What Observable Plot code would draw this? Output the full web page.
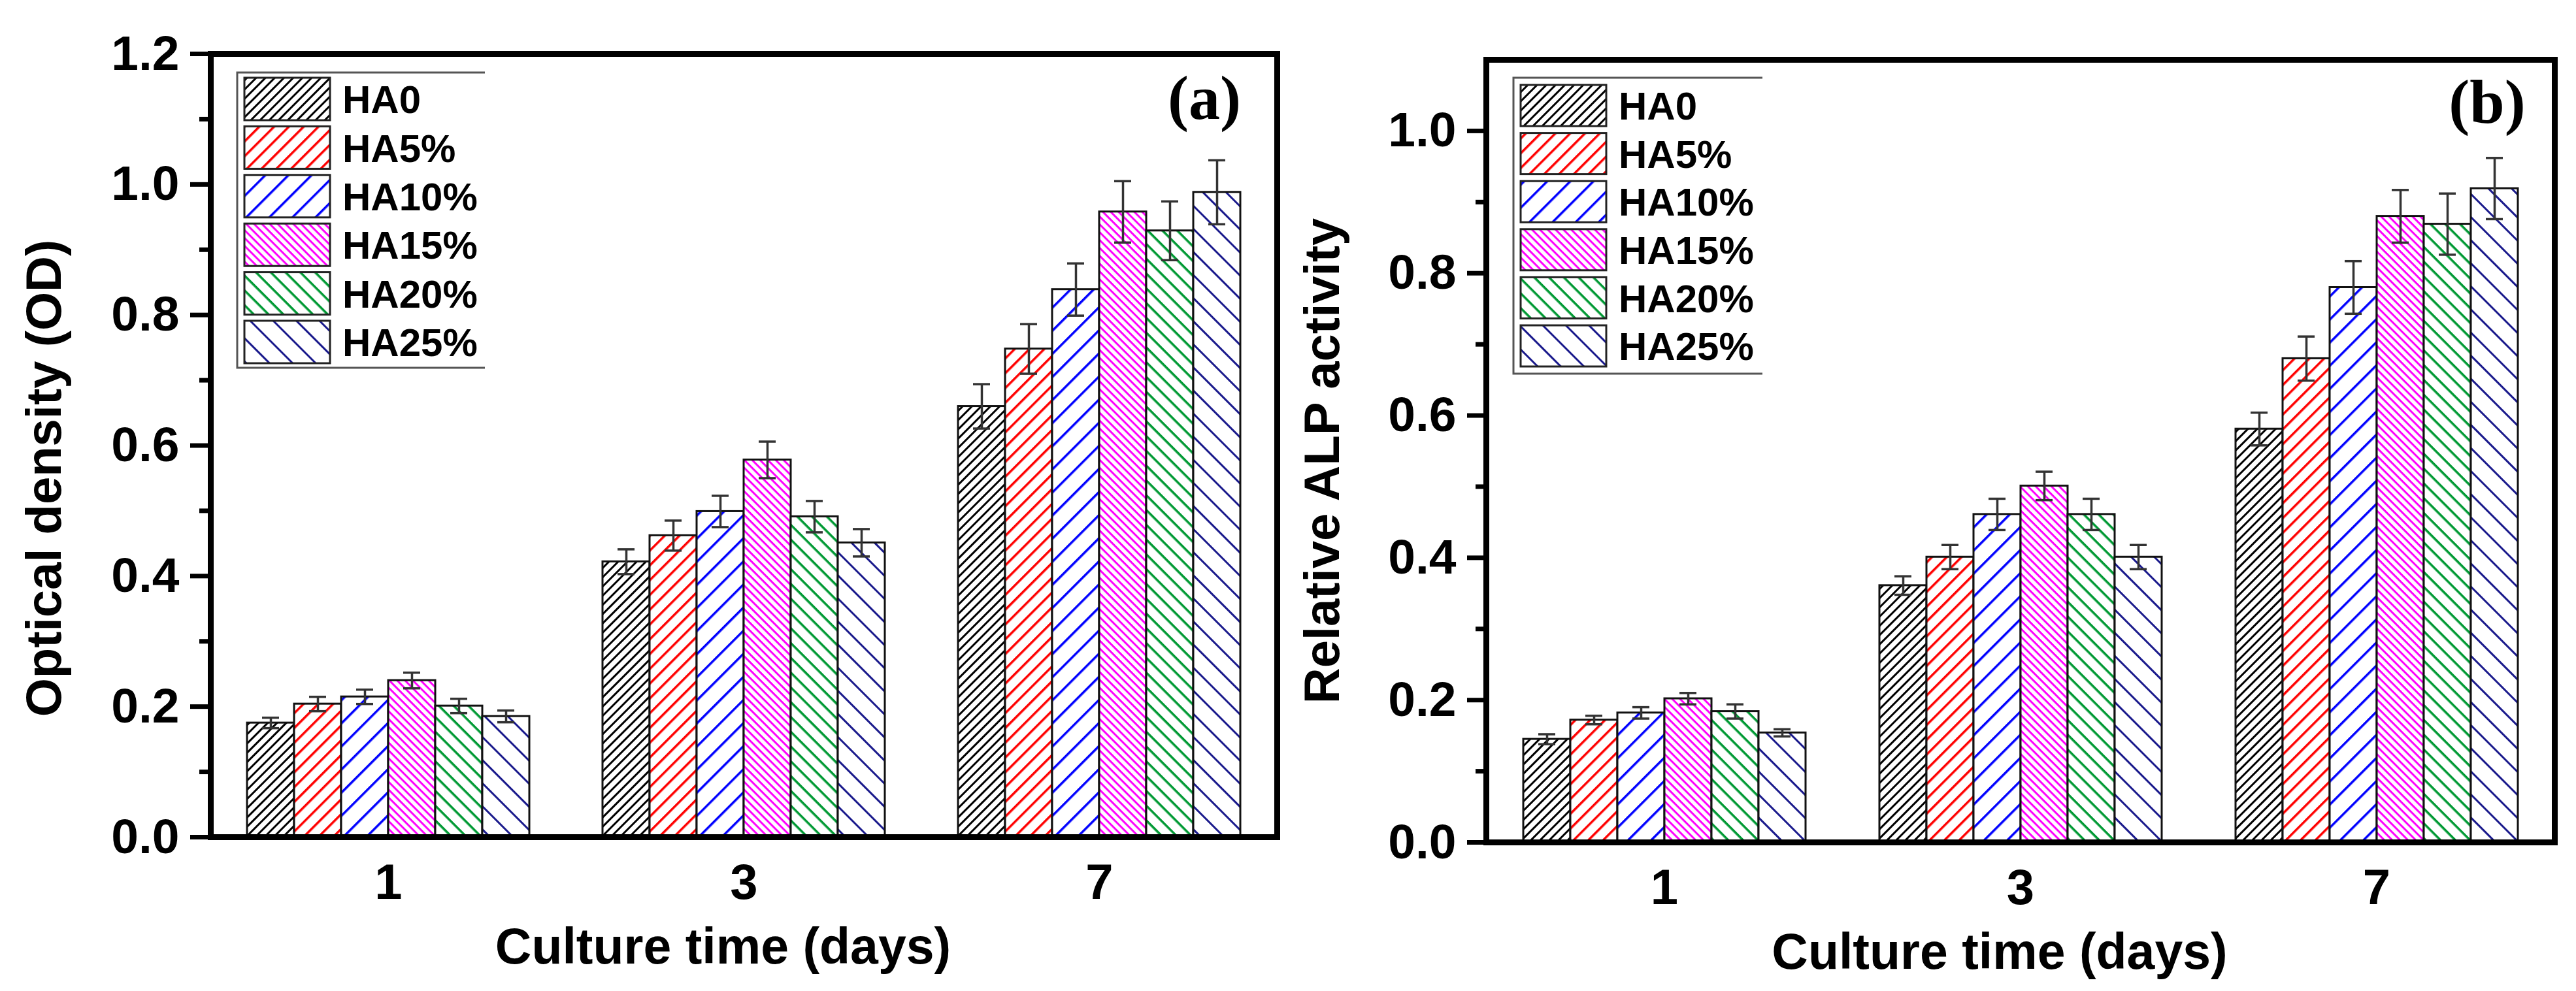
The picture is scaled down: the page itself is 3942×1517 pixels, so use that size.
<!DOCTYPE html>
<html>
<head>
<meta charset="utf-8">
<script src="https://cdn.jsdelivr.net/npm/d3@7"></script>
<script src="https://cdn.jsdelivr.net/npm/@observablehq/plot@0.6"></script>
<style>
html, body { margin: 0; padding: 0; background: #fff; }
#wrap { display: flex; width: 3942px; height: 1517px; }
.panel { width: 1971px; height: 1517px; position: relative; }
</style>
</head>
<body>
<svg id="defs" width="0" height="0" style="position:absolute;left:0;top:0"></svg>
<div id="wrap"><div class="panel" id="pa"></div><div class="panel" id="pb"></div></div>
<script>
// ---------- data ----------
const days = ["1", "3", "7"];
const series = ["HA0", "HA5%", "HA10%", "HA15%", "HA20%", "HA25%"];

// (a) Optical density (OD), mean and error per day, in series order
const odDay1 = [0.175, 0.204, 0.215, 0.240, 0.201, 0.185];
const odDay3 = [0.422, 0.462, 0.499, 0.578, 0.491, 0.451];
const odDay7 = [0.660, 0.748, 0.839, 0.958, 0.929, 0.988];
const odErr1 = [0.008, 0.011, 0.011, 0.012, 0.011, 0.009];
const odErr3 = [0.019, 0.023, 0.024, 0.028, 0.024, 0.021];
const odErr7 = [0.034, 0.038, 0.040, 0.047, 0.045, 0.049];

// (b) Relative ALP activity
const alpDay1 = [0.145, 0.172, 0.182, 0.202, 0.184, 0.154];
const alpDay3 = [0.361, 0.401, 0.461, 0.501, 0.461, 0.401];
const alpDay7 = [0.581, 0.680, 0.780, 0.880, 0.869, 0.919];
const alpErr1 = [0.007, 0.006, 0.008, 0.008, 0.010, 0.005];
const alpErr3 = [0.013, 0.017, 0.022, 0.020, 0.022, 0.017];
const alpErr7 = [0.023, 0.031, 0.037, 0.037, 0.043, 0.043];

// tick values
const odTicks = [0.0, 0.2, 0.4, 0.6, 0.8, 1.0, 1.2];
const odMinor = [0.1, 0.3, 0.5, 0.7, 0.9, 1.1];
const alpTicks = [0.0, 0.2, 0.4, 0.6, 0.8, 1.0];
const alpMinor = [0.1, 0.3, 0.5, 0.7, 0.9];

const xLabel = "Culture time (days)";

// ---------- hatch styles ----------
const hatchStyles = [
  {color: "#000000", angle: -45, gap: 10, w: 3},
  {color: "#ff0000", angle: -45, gap: 16, w: 3.5},
  {color: "#0000ff", angle: -45, gap: 25, w: 3.5},
  {color: "#ff00ff", angle: 45, gap: 8.5, w: 3},
  {color: "#009933", angle: 45, gap: 16, w: 3.5},
  {color: "#1a1a8c", angle: 45, gap: 25, w: 3}
];
const defs = d3.select("#defs").append("defs");
hatchStyles.forEach((h, i) => {
  const p = defs.append("pattern")
    .attr("id", "hatch" + i)
    .attr("patternUnits", "userSpaceOnUse")
    .attr("width", h.gap).attr("height", h.gap)
    .attr("patternTransform", `rotate(${h.angle})`);
  p.append("rect").attr("width", h.gap).attr("height", h.gap).attr("fill", "#fff");
  p.append("rect").attr("width", h.gap).attr("height", h.w).attr("fill", h.color);
});
const hatchUrls = series.map((s, i) => `url(#hatch${i})`);

function rows(means, errs) {
  return days.flatMap((d, i) => series.map((s, j) => ({day: d, series: s, value: means[i][j], err: errs[i][j]})));
}

const FONT = "'Liberation Sans', Arial, Helvetica, sans-serif";

function panel(o) {
  const lo = d => d.value - d.err, hi = d => d.value + d.err;
  const chart = Plot.plot({
    width: 1971, height: 1517,
    marginLeft: o.ml, marginRight: o.mr, marginTop: o.mt, marginBottom: o.mb,
    style: `font-family: ${FONT}; font-weight: bold; background: white; color: black;`,
    fx: {domain: days, padding: 0, label: null},
    x: {domain: series, paddingInner: 0, paddingOuter: 0.735, axis: null},
    y: {domain: [0, o.yMax]},
    color: {domain: series, range: hatchUrls},
    marks: [
      Plot.barY(o.data, {fx: "day", x: "series", y: "value", fill: "series", stroke: "#111", strokeWidth: 3}),
      Plot.ruleX(o.data, {fx: "day", x: "series", y1: lo, y2: hi, stroke: "#333", strokeWidth: 3.5}),
      Plot.tickY(o.data, {fx: "day", x: "series", y: hi, insetLeft: 23, insetRight: 23, stroke: "#333", strokeWidth: 3.5}),
      Plot.tickY(o.data, {fx: "day", x: "series", y: lo, insetLeft: 23, insetRight: 23, stroke: "#333", strokeWidth: 3.5}),
      Plot.axisY({ticks: o.minor, tickSize: o.minorSize, strokeWidth: 7, fill: "none", label: null}),
      Plot.axisY({ticks: o.ticks, tickSize: o.tickSize, strokeWidth: 7, tickPadding: 17,
        tickFormat: d3.format(".1f"), fontSize: 75, fontWeight: "bold", label: null}),
      Plot.axisFx({anchor: "bottom", tickSize: 0, tickPadding: 41, fontSize: 76, fontWeight: "bold", label: null}),
      Plot.text([o.yLabel], {facet: "super", frameAnchor: "left", rotate: -90, lineAnchor: "top", textAnchor: "middle",
        text: d => d, dx: -o.yLabelOff, dy: o.yLabelDy, fontSize: 76, fontWeight: "bold"}),
      Plot.text([xLabel], {facet: "super", frameAnchor: "bottom", lineAnchor: "top", textAnchor: "middle",
        text: d => d, dy: 139, dx: -32, fontSize: 77, fontWeight: "bold"}),
      Plot.frame({facet: "super", stroke: "#000", strokeWidth: 9})
    ]
  });
  // legend and panel tag
  const svg = d3.select(chart);
  const L = o.legend;
  const g = svg.append("g");
  g.append("path")
    .attr("d", `M${L.right},${L.top}H${L.left}V${L.bottom}H${L.right}`)
    .attr("fill", "none").attr("stroke", "#555").attr("stroke-width", 3);
  series.forEach((s, i) => {
    const y = L.y0 + i * L.step;
    g.append("rect").attr("x", L.sx).attr("y", y).attr("width", 131).attr("height", L.sh)
      .attr("fill", hatchUrls[i]).attr("stroke", "#222").attr("stroke-width", 3);
    g.append("text").attr("x", L.tx).attr("y", y + L.sh / 2).attr("dy", "0.36em")
      .attr("font-size", 60).attr("font-weight", "bold").attr("font-family", FONT)
      .attr("text-anchor", "start").attr("fill", "#000").text(s);
  });
  g.append("text").attr("x", o.tag.x).attr("y", o.tag.y).attr("text-anchor", "middle")
    .attr("font-family", "'Liberation Serif', 'Times New Roman', serif").attr("font-weight", "bold")
    .attr("font-size", 96).attr("fill", "#000").text(o.tag.text);
  return chart;
}

document.getElementById("pa").appendChild(panel({
  data: rows([odDay1, odDay3, odDay7], [odErr1, odErr3, odErr7]),
  yMax: 1.2, ticks: odTicks, minor: odMinor, tickSize: 31, minorSize: 17,
  ml: 321, mr: 16, mt: 82, mb: 236,
  yLabel: "Optical density (OD)", yLabelOff: 283, yLabelDy: 50,
  legend: {left: 363, top: 111, right: 742, bottom: 563, sx: 374, sh: 65, y0: 119, step: 74.4, tx: 524},
  tag: {text: "(a)", x: 1843, y: 182}
}));

document.getElementById("pb").appendChild(panel({
  data: rows([alpDay1, alpDay3, alpDay7], [alpErr1, alpErr3, alpErr7]),
  yMax: 1.1, ticks: alpTicks, minor: alpMinor, tickSize: 29, minorSize: 16,
  ml: 302, mr: 32, mt: 91, mb: 228,
  yLabel: "Relative ALP activity", yLabelOff: 279, yLabelDy: 15,
  legend: {left: 345, top: 119, right: 726, bottom: 572, sx: 356, sh: 63, y0: 130, step: 73.6, tx: 506},
  tag: {text: "(b)", x: 1835, y: 188}
}));
</script>
</body>
</html>
